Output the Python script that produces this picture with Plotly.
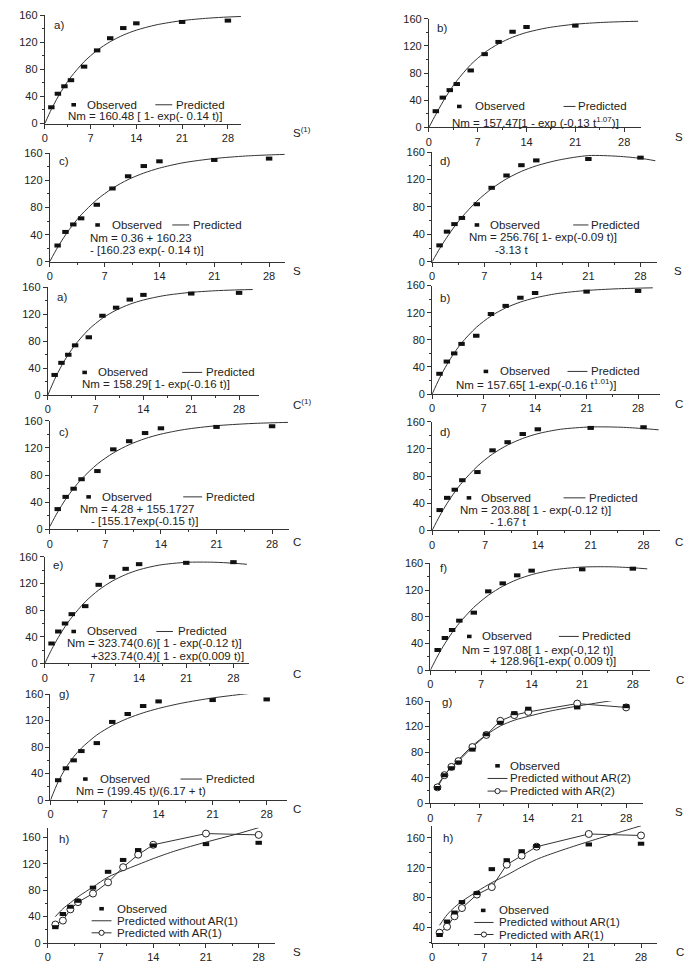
import plotly.graph_objects as go

# ---------------- data ----------------
t_obs = [1, 2, 3, 4, 6, 8, 10, 12, 14, 21, 28]
obs_S = [24, 44, 55, 64, 84, 108, 126, 141, 148, 150, 152]
obs_C = [30, 48, 60, 74, 86, 118, 130, 142, 149, 151, 152]

t_pred = [0, 1, 2, 3, 4, 6, 8, 10, 12, 14, 17, 21, 25, 28, 30]
pred_Sa = [0, 21.0, 39.2, 55.0, 68.8, 91.2, 108.1, 120.9, 130.6, 137.9, 145.6, 152.0, 155.6, 157.3, 158.1]
pred_Sb = [0, 19.2, 37.6, 54.1, 68.6, 92.5, 110.3, 123.3, 132.9, 139.9, 146.8, 152.1, 154.8, 155.9, 156.4]
pred_Sc = [0.4, 21.3, 39.5, 55.3, 69.1, 91.4, 108.3, 121.1, 130.7, 138.0, 145.8, 152.1, 155.8, 157.4, 158.2]
pred_Sd = [0, 19.0, 36.0, 51.4, 65.1, 88.4, 106.7, 121.1, 132.0, 140.1, 148.5, 155.0, 154.0, 151.0, 147.5]
pred_Ca = [0, 23.4, 43.4, 60.3, 74.8, 97.7, 114.3, 126.3, 135.1, 141.4, 147.9, 152.8, 155.4, 156.5, 157.0]
pred_Cb = [0, 23.3, 43.4, 60.6, 75.3, 98.3, 115.0, 127.0, 135.6, 141.8, 148.1, 152.7, 155.1, 156.1, 156.6]
pred_Cc = [4.3, 25.9, 44.5, 60.5, 74.3, 96.4, 112.7, 124.8, 133.8, 140.4, 147.3, 152.8, 155.8, 157.1, 157.7]
pred_Cd = [0, 21.4, 40.2, 56.6, 71.0, 94.6, 112.5, 125.8, 135.5, 142.5, 149.0, 152.4, 152.0, 150.0, 148.2]
pred_Ce = [0, 20.8, 39.1, 55.2, 69.3, 92.5, 110.2, 123.5, 133.4, 140.6, 147.6, 151.7, 151.9, 150.4, 148.8]
pred_Cf = [0, 21.1, 39.7, 56.0, 70.4, 94.0, 112.0, 125.6, 135.7, 143.0, 150.2, 154.4, 154.8, 153.3, 151.7]
pred_Cg = [0, 27.8, 48.8, 65.3, 78.4, 98.3, 112.6, 123.3, 131.7, 138.4, 146.3, 154.2, 160.0, 163.4, 165.4]

t_ar = [1, 2, 3, 4, 6, 8, 10, 12, 14, 17, 21, 25, 28]
ar2_without = [28, 44, 57, 68, 90, 107, 121, 130, 136, 144, 152, 159, 164]
ar2_with = [25, 44, 57, 66, 88, 107, 129, 138, 143, 156, 150]
ar1S_without = [40, 52, 61, 70, 85, 100, 110, 119, 128, 140, 153, 165, 175]
ar1S_with = [28, 34, 51, 62, 75, 92, 115, 134, 149, 166, 164]
ar1C_without = [43, 57, 67, 75, 88, 100, 110, 121, 131, 142, 155, 167, 176]
ar1C_with = [33, 41, 55, 66, 84, 94, 124, 136, 148, 165, 163]

x_ticks = [0, 7, 14, 21, 28]
y_ticks = [0, 40, 80, 120, 160]
y_ticks_h2 = [40, 80, 120, 160]

# ---------------- layout helpers ----------------
W, H = 691, 973
FONT = "Liberation Sans, Arial, sans-serif"
TXT = "#222"
LINEC = "#333"


def fx(x):
    return x / W


def fy(y):
    return 1 - y / H


# panel boxes in pixels: left, right, top, bottom, x max, y range, y ticks
panels = [
    (42, 239, 9.3, 119, 30.0, (0, 160), y_ticks),
    (427.7, 640.7, 13, 123, 30.4, (0, 160), y_ticks),
    (47, 283, 149, 259, 30.0, (0, 160), y_ticks),
    (431, 656.7, 148, 259, 30.2, (0, 160), y_ticks),
    (45, 257, 285, 394, 30.9, (0, 160), y_ticks),
    (431, 660, 283, 393, 31.0, (0, 160), y_ticks),
    (47, 287, 420, 530, 30.1, (0, 160), y_ticks),
    (431, 660, 421, 531, 30.2, (0, 160), y_ticks),
    (42, 247, 557.7, 665.7, 30.3, (0, 160), y_ticks),
    (429.3, 650, 564.3, 672.3, 30.4, (0, 160), y_ticks),
    (47.7, 285, 696.7, 804, 30.6, (0, 160), y_ticks),
    (429.3, 642.7, 703.7, 807.3, 30.4, (0, 160), y_ticks),
    (45, 272.7, 831.9, 948.7, 30.1, (0, 175), y_ticks),
    (431, 657.3, 830, 948.9, 30.2, (19, 176), y_ticks_h2),
]

fig = go.Figure()
layout = dict(
    width=W, height=H, autosize=False,
    margin=dict(l=0, r=0, t=0, b=0),
    paper_bgcolor="white", plot_bgcolor="white",
    showlegend=False,
    font=dict(family=FONT, size=11, color=TXT),
)

for i, (l, r, t, b, xmax, yr, yt) in enumerate(panels):
    k = "" if i == 0 else str(i + 1)
    layout["xaxis" + k] = dict(
        domain=[fx(l), fx(r)], range=[0, xmax], anchor="y" + k,
        showline=True, linecolor=LINEC, linewidth=1, mirror=False,
        showgrid=False, zeroline=False,
        tickvals=x_ticks, ticks="outside", ticklen=4, tickcolor=LINEC,
        tickfont=dict(family=FONT, size=11, color=TXT),
        minor=dict(dtick=3.5, tick0=0, ticks="outside", ticklen=2, tickcolor=LINEC),
        fixedrange=True,
    )
    layout["yaxis" + k] = dict(
        domain=[fy(b), fy(t)], range=list(yr), anchor="x" + k,
        showline=True, linecolor=LINEC, linewidth=1,
        showgrid=False, zeroline=False,
        tickvals=yt, ticks="outside", ticklen=4, tickcolor=LINEC,
        tickfont=dict(family=FONT, size=11, color=TXT),
        minor=dict(dtick=20, tick0=0, ticks="outside", ticklen=2, tickcolor=LINEC),
        fixedrange=True,
    )


def ax(i):
    k = "" if i == 0 else str(i + 1)
    return "x" + k, "y" + k


def add_obs(i, xs, ys):
    xa, ya = ax(i)
    fig.add_trace(go.Scatter(
        x=xs, y=ys, mode="markers", xaxis=xa, yaxis=ya,
        marker=dict(symbol="line-ew", size=4.6, color="#111",
                    line=dict(color="#111", width=4)),
        cliponaxis=False))


def add_line(i, xs, ys, spline=True):
    xa, ya = ax(i)
    fig.add_trace(go.Scatter(
        x=xs, y=ys, mode="lines", xaxis=xa, yaxis=ya,
        line=dict(color=LINEC, width=1, shape="spline" if spline else "linear",
                  smoothing=0.8)))


def add_ar(i, xs, ys):
    xa, ya = ax(i)
    fig.add_trace(go.Scatter(
        x=xs, y=ys, mode="lines+markers", xaxis=xa, yaxis=ya,
        line=dict(color=LINEC, width=1),
        marker=dict(symbol="circle", size=7, color="white",
                    line=dict(color="#222", width=1)),
        cliponaxis=False))


# traces
pred_list = [pred_Sa, pred_Sb, pred_Sc, pred_Sd, pred_Ca, pred_Cb, pred_Cc,
             pred_Cd, pred_Ce, pred_Cf, pred_Cg]
obs_list = [obs_S, obs_S, obs_S, obs_S, obs_C, obs_C, obs_C, obs_C, obs_C, obs_C, obs_C]
for i in range(11):
    add_line(i, t_pred, pred_list[i])
    if i == 1:
        add_obs(i, t_obs[:10], obs_S[:10])
    else:
        add_obs(i, t_obs, obs_list[i])

add_line(11, t_ar, ar2_without)
add_ar(11, t_obs, ar2_with)
add_obs(11, t_obs, obs_S)

add_line(12, t_ar, ar1S_without)
add_ar(12, t_obs, ar1S_with)
add_obs(12, t_obs, obs_S)

add_line(13, t_ar, ar1C_without)
add_ar(13, t_obs, ar1C_with)
add_obs(13, t_obs, obs_C)

# ---------------- annotations & legend glyphs ----------------
annotations = []
shapes = []


def text(x, y, s, size=11):
    annotations.append(dict(
        x=fx(x), y=fy(y), xref="paper", yref="paper", text=s, showarrow=False,
        xanchor="left", yanchor="middle", align="left",
        font=dict(family=FONT, size=size, color=TXT)))


def sq(x, y):
    shapes.append(dict(type="rect", xref="paper", yref="paper",
                       x0=fx(x - 2.3), x1=fx(x + 2.3), y0=fy(y + 1.8), y1=fy(y - 1.8),
                       fillcolor="#111", line=dict(width=0)))


def hline(x0, x1, y):
    shapes.append(dict(type="line", xref="paper", yref="paper",
                       x0=fx(x0), x1=fx(x1), y0=fy(y), y1=fy(y),
                       line=dict(color=LINEC, width=1)))


def circ(x, y, r=2.6):
    shapes.append(dict(type="circle", xref="paper", yref="paper",
                       x0=fx(x - r), x1=fx(x + r), y0=fy(y + r), y1=fy(y - r),
                       fillcolor="white", line=dict(color="#222", width=1)))


# panel letters
letters = [
    (49, 19, "a)"), (434, 22.7, "b)"), (54, 157.3, "c)"), (436.7, 157.3, "d)"),
    (52, 295, "a)"), (437, 296, "b)"), (54, 431, "c)"), (437, 431, "d)"),
    (48, 566, "e)"), (437, 569, "f)"), (54.3, 696.7, "g)"), (439.3, 705, "g)"),
    (54, 843, "h)"), (440, 842, "h)"),
]
for x, y, s in letters:
    text(x, y, s, 11.5)

# axis unit labels
units = [
    (289, 128, "S<sup>(1)</sup>"), (672.7, 133, "S"), (289, 268.3, "S"), (671.7, 268, "S"),
    (289, 403, "C<sup>(1)</sup>"), (673, 403, "C"), (289, 543, "C"), (673, 543, "C"),
    (289, 676, "C"), (674.3, 682.3, "C"), (289, 812.7, "C"), (672.7, 816, "S"),
    (289, 958.3, "S"), (674.3, 958.3, "C"),
]
for x, y, s in units:
    text(x, y, s, 11.5)

# two-item legends: (marker x, y, Observed text x, line x0, line x1, Predicted text x)
legends2 = [
    (71, 100, 82, 153, 170, 172),
    (458.3, 101.7, 472, 563, 575, 576),
    (95, 221.7, 107, 170, 187, 189),
    (476, 221.7, 487, 572.7, 588, 589),
    (82, 371, 93, 180, 200, 202),
    (485, 370, 497, 567, 587, 589),
    (86, 497, 97, 181, 200, 202),
    (468, 498, 478, 563, 585, 587),
    (71, 633.3, 82, 154, 170.7, 174),
    (468.3, 638.3, 479, 558.3, 578.3, 579.3),
    (82.7, 782.7, 95, 178.3, 200, 201.7),
]
for mx, my, ox, l0, l1, tx in legends2:
    sq(mx, my)
    text(ox, my, "Observed", 11.5)
    hline(l0, l1, my)
    text(tx, my, "Predicted", 11.5)

# equations
eqs = [
    (63, 111.7, "Nm = 160.48 [ 1- exp(- 0.14 t)]"),
    (449, 117.7, "Nm = 157.47[1 - exp (-0.13 t<sup>1.07</sup>)]"),
    (85, 235, "Nm = 0.36 + 160.23"),
    (85, 247.3, "- [160.23 exp(- 0.14 t)]"),
    (465.7, 234.3, "Nm = 256.76[ 1- exp(-0.09 t)]"),
    (491.7, 247.3, "-3.13 t"),
    (77, 383, "Nm = 158.29[ 1- exp(-0.16 t)]"),
    (453, 383, "Nm = 157.65[ 1-exp(-0.16 t<sup>1.01</sup>)]"),
    (75, 509, "Nm = 4.28 + 155.1727"),
    (86, 521, "- [155.17exp(-0.15 t)]"),
    (457, 510, "Nm = 203.88[ 1 - exp(-0.12 t)]"),
    (487, 522, "- 1.67 t"),
    (62.7, 645, "Nm = 323.74(0.6)[ 1 - exp(-0.12 t)]"),
    (86, 658.3, "+323.74(0.4)[ 1 - exp(0.009 t)]"),
    (459.3, 651.7, "Nm = 197.08[ 1 - exp(-0,12 t)]"),
    (486.7, 663.3, "+ 128.96[1-exp( 0.009 t)]"),
    (71.7, 795, "Nm = (199.45 t)/(6.17 + t)"),
]
for x, y, s in eqs:
    text(x, y, s, 11.5)

# three-item legends
legends3 = [
    # marker x, y0, text x, line x0, line x1, row gap, label suffix
    (496.7, 769.3, 507.7, 486.7, 506.7, 12.8, "AR(2)"),
    (99, 914, 112.3, 89, 109, 12.2, "AR(1)"),
    (482.3, 915.7, 496, 473.3, 492.7, 12.2, "AR(1)"),
]
for mx, y0, tx, l0, l1, gap, suf in legends3:
    sq(mx, y0)
    text(tx, y0, "Observed", 11.5)
    hline(l0, l1, y0 + gap)
    text(tx, y0 + gap, "Predicted without " + suf, 11.5)
    hline(l0, l1, y0 + 2 * gap)
    circ((l0 + l1) / 2, y0 + 2 * gap)
    text(tx, y0 + 2 * gap, "Predicted with " + suf, 11.5)

layout["annotations"] = annotations
layout["shapes"] = shapes
fig.update_layout(**layout)
fig.write_html("out.html")
